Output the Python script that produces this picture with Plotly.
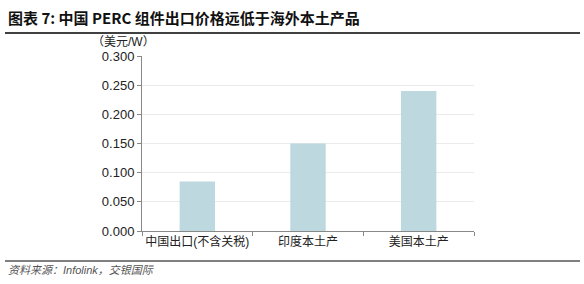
import plotly.graph_objects as go

categories = ["中国出口(不含关税)", "印度本土产", "美国本土产"]
values = [0.085, 0.150, 0.240]
y_ticks = [0.0, 0.05, 0.10, 0.15, 0.20, 0.25, 0.30]
y_tick_labels = ["0.000", "0.050", "0.100", "0.150", "0.200", "0.250", "0.300"]

title = "图表 7: 中国 PERC 组件出口价格远低于海外本土产品"
unit = "（美元/W）"
source = "资料来源：Infolink，交银国际"

cjk = "Liberation Sans, Noto Sans CJK SC, sans-serif"

fig = go.Figure(go.Bar(
    x=categories, y=values, marker=dict(color="#BDD8DE", line=dict(width=0)),
    width=0.32,
))

fig.update_layout(
    width=584, height=284,
    margin=dict(l=142, r=110, t=56, b=53),
    paper_bgcolor="white", plot_bgcolor="white",
    showlegend=False,
    font=dict(family=cjk, color="#222"),
    xaxis=dict(
        showline=True, linecolor="#888", linewidth=1,
        ticks="outside", tickson="boundaries", ticklen=4, tickcolor="#888",
        tickfont=dict(size=12, color="#222", family=cjk),
        showgrid=False, tickangle=0, automargin=False,
    ),
    yaxis=dict(
        range=[0, 0.3], tickvals=y_ticks, ticktext=y_tick_labels,
        showline=True, linecolor="#888", linewidth=1,
        ticks="outside", ticklen=4, tickcolor="#888",
        tickfont=dict(size=13, color="#222", family="Liberation Sans, Arial, sans-serif"),
        showgrid=True, gridcolor="#EBEBEB", gridwidth=1, zeroline=False,
        automargin=False,
    ),
    shapes=[
        dict(type="line", xref="paper", yref="paper", x0=-137/332, x1=438/332,
             y0=(284-53-33)/175, y1=(284-53-33)/175, line=dict(color="black", width=1.5)),
        dict(type="line", xref="paper", yref="paper", x0=-137/332, x1=438/332,
             y0=(284-53-261)/175, y1=(284-53-261)/175, line=dict(color="black", width=1)),
    ],
    annotations=[
        dict(text="<b>" + title + "</b>", xref="paper", yref="paper",
             x=-136/332, y=(231-17)/175, xanchor="left", yanchor="middle",
             showarrow=False, font=dict(size=15, color="#111", family="Noto Sans CJK SC, sans-serif")),
        dict(text=unit, xref="paper", yref="paper",
             x=-52/332, y=(231-42)/175, xanchor="left", yanchor="middle",
             showarrow=False, font=dict(size=12, color="#222", family=cjk)),
        dict(text="<i>" + source + "</i>", xref="paper", yref="paper",
             x=-136/332, y=(231-270)/175, xanchor="left", yanchor="middle",
             showarrow=False, font=dict(size=11, color="#555", family=cjk)),
    ],
)

fig.write_html("out.html")
